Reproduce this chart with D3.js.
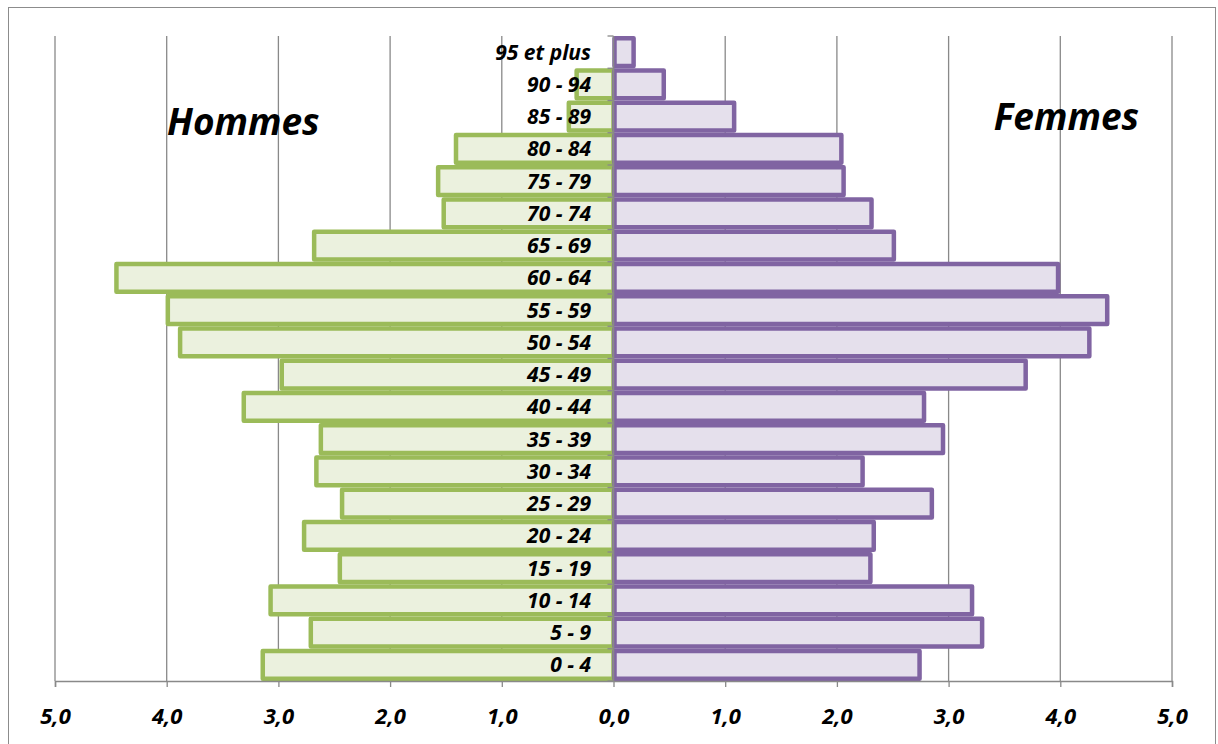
<!DOCTYPE html>
<html>
<head>
<meta charset="utf-8">
<script src="https://cdn.jsdelivr.net/npm/d3@7"></script>
<style>
  html, body { margin: 0; padding: 0; background: #ffffff; }
  svg { display: block; }
  text { font-family: "Open Sans", "Noto Sans", "DejaVu Sans", sans-serif; font-weight: bold; font-style: italic; fill: #000; }
</style>
</head>
<body>
<script>
// Age groups, top to bottom
const ageGroups = ["95 et plus","90 - 94","85 - 89","80 - 84","75 - 79","70 - 74","65 - 69","60 - 64","55 - 59","50 - 54","45 - 49","40 - 44","35 - 39","30 - 34","25 - 29","20 - 24","15 - 19","10 - 14","5 - 9","0 - 4"];
// Percent of population, men (left side)
const hommes = [0, 0.33, 0.40, 1.41, 1.57, 1.52, 2.68, 4.45, 3.99, 3.88, 2.97, 3.31, 2.62, 2.66, 2.43, 2.77, 2.45, 3.07, 2.71, 3.14];
// Percent of population, women (right side)
const femmes = [0.18, 0.45, 1.08, 2.04, 2.06, 2.31, 2.51, 3.98, 4.42, 4.26, 3.69, 2.78, 2.95, 2.23, 2.85, 2.33, 2.30, 3.21, 3.30, 2.74];
// Axis ticks
const xTicks = [-5, -4, -3, -2, -1, 0, 1, 2, 3, 4, 5];
const xTickLabels = ["5,0","4,0","3,0","2,0","1,0","0,0","1,0","2,0","3,0","4,0","5,0"];
const seriesNames = ["Hommes", "Femmes"];

const W = 1218, H = 744;
const svg = d3.select("body").append("svg").attr("width", W).attr("height", H);

// chart border
svg.append("rect").attr("x", 8.5).attr("y", 7.5).attr("width", 1207).attr("height", 800)
  .attr("fill", "#fff").attr("stroke", "#8c8c8c").attr("stroke-width", 1);

const x = d3.scaleLinear().domain([-5, 5]).range([55, 1172]);
const y = d3.scaleBand().domain(ageGroups).range([36, 681]).paddingInner(0).paddingOuter(0);

// gridlines
svg.append("g").selectAll("line").data(xTicks.filter(t => t !== 0)).join("line")
  .attr("x1", d => x(d)).attr("x2", d => x(d))
  .attr("y1", y.range()[0]).attr("y2", y.range()[1])
  .attr("stroke", "#898989").attr("stroke-width", 1.3);

const sw = 4.5;
const bw = y.bandwidth();

// Men bars
svg.append("g").selectAll("rect").data(ageGroups.map((g, i) => ({g, v: hommes[i]})).filter(d => d.v > 0)).join("rect")
  .attr("x", d => x(-d.v))
  .attr("y", d => y(d.g) + sw / 2)
  .attr("width", d => x(0) - x(-d.v))
  .attr("height", bw - sw)
  .attr("fill", "#EBF1DE").attr("stroke", "#9BBB59").attr("stroke-width", sw)
  .attr("stroke-linejoin", "round");

// Women bars
svg.append("g").selectAll("rect").data(ageGroups.map((g, i) => ({g, v: femmes[i]})).filter(d => d.v > 0)).join("rect")
  .attr("x", x(0) + 1)
  .attr("y", d => y(d.g) + sw / 2)
  .attr("width", d => x(d.v) - x(0) - 1)
  .attr("height", bw - sw)
  .attr("fill", "#E5E0EC").attr("stroke", "#8064A2").attr("stroke-width", sw)
  .attr("stroke-linejoin", "round");

// vertical axis at 0 with ticks at band boundaries
const boundaries = ageGroups.map(g => y(g)).concat([y.range()[1]]);
const yAxisG = svg.append("g");
yAxisG.append("line").attr("x1", x(0)).attr("x2", x(0)).attr("y1", y.range()[0]).attr("y2", y.range()[1])
  .attr("stroke", "#898989").attr("stroke-width", 1.5);
yAxisG.selectAll("line.t").data(boundaries).join("line").attr("class", "t")
  .attr("x1", x(0) - 6).attr("x2", x(0)).attr("y1", d => d).attr("y2", d => d)
  .attr("stroke", "#898989").attr("stroke-width", 1.3);

// category labels
svg.append("g").selectAll("text").data(ageGroups).join("text")
  .attr("x", 591).attr("y", d => y(d) + bw / 2).attr("dy", "0.36em")
  .attr("text-anchor", "end").attr("font-size", 21)
  .text(d => d);

// bottom axis
const xAxis = d3.axisBottom(x).tickValues(xTicks).tickSize(6)
  .tickFormat((d, i) => xTickLabels[i]);
const gx = svg.append("g").attr("transform", `translate(0,${y.range()[1]})`).call(xAxis);
gx.select(".domain").attr("stroke", "#898989").attr("stroke-width", 1.5);
gx.selectAll(".tick line").attr("stroke", "#898989").attr("stroke-width", 1.3);
gx.selectAll(".tick text").attr("y", 43).attr("dy", 0)
  .attr("font-size", 22).attr("font-family", "'Open Sans', 'Noto Sans', sans-serif")
  .attr("font-weight", "bold").attr("font-style", "italic").attr("fill", "#000");

// series titles
svg.append("text").attr("x", 167).attr("y", 135).attr("font-size", 37).text(seriesNames[0]);
svg.append("text").attr("x", 1139).attr("y", 130).attr("text-anchor", "end").attr("font-size", 37).text(seriesNames[1]);
</script>
</body>
</html>
